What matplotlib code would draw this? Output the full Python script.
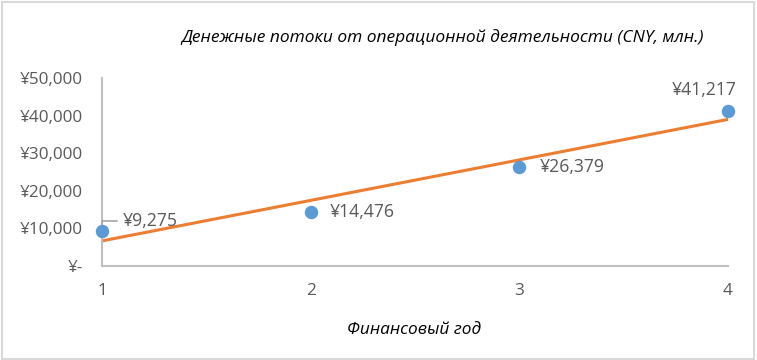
import matplotlib
matplotlib.use("Agg")
import matplotlib.pyplot as plt
import numpy as np
from matplotlib.patches import Rectangle

# data
years = [1, 2, 3, 4]
cash_flow = [9275, 14476, 26379, 41217]
y_ticks = [0, 10000, 20000, 30000, 40000, 50000]
y_tick_labels = ["¥-", "¥10,000", "¥20,000", "¥30,000", "¥40,000", "¥50,000"]
title = "Денежные потоки от операционной деятельности (CNY, млн.)"
x_title = "Финансовый год"

plt.rcParams["font.family"] = ["Open Sans", "DejaVu Sans"]
txt_col = "#595959"
axis_col = "#BFBFBF"

fig = plt.figure(figsize=(7.57, 3.6), dpi=100)
fig.patches.append(Rectangle((0.002, 0.004), 0.994, 0.99, transform=fig.transFigure,
                             fill=False, edgecolor="#D9D9D9", linewidth=1.5))
ax = fig.add_axes([0.1347, 0.2611, 0.827, 0.5222])

# linear trendline (least squares, like Excel)
k, b = np.polyfit(years, cash_flow, 1)
xs = np.array([years[0], years[-1]])
ax.plot(xs, k * xs + b, color="#ED7D31", linewidth=2.2, zorder=2)
ax.scatter(years, cash_flow, s=75, color="#5B9BD5", zorder=3, clip_on=False)

# data labels
lab_fs = 12.7
lab = ["¥{:,}".format(v) for v in cash_flow]
ax.annotate(lab[0], (years[0], cash_flow[0]), xytext=(15, 7), textcoords="offset points",
            fontsize=lab_fs, color=txt_col, va="center", ha="left",
            arrowprops=dict(arrowstyle="-", color="#A6A6A6", lw=1.2, shrinkA=2, shrinkB=5,
                            connectionstyle="angle,angleA=0,angleB=90,rad=0"))
ax.annotate(lab[1], (years[1], cash_flow[1]), xytext=(14, 0), textcoords="offset points",
            fontsize=lab_fs, color=txt_col, va="center", ha="left")
ax.annotate(lab[2], (years[2], cash_flow[2]), xytext=(15, 0), textcoords="offset points",
            fontsize=lab_fs, color=txt_col, va="center", ha="left")
ax.annotate(lab[3], (years[3], cash_flow[3]), xytext=(-17, 15), textcoords="offset points",
            fontsize=lab_fs, color=txt_col, va="center", ha="center")

ax.set_xlim(1, 4)
ax.set_ylim(0, 50000)
ax.set_xticks(years)
ax.set_xticklabels([str(y) for y in years])
ax.set_yticks(y_ticks)
ax.set_yticklabels(y_tick_labels)
ax.tick_params(length=0, labelsize=12.3, labelcolor=txt_col)
ax.tick_params(axis="y", pad=14)
ax.tick_params(axis="x", pad=12)
for s in ["top", "right"]:
    ax.spines[s].set_visible(False)
for s in ["left", "bottom"]:
    ax.spines[s].set_color(axis_col)
    ax.spines[s].set_linewidth(1.5)

fig.text(0.585, 0.897, title, fontsize=12.5, style="italic", color="black", ha="center", va="center")
fig.text(0.547, 0.083, x_title, fontsize=12.4, style="italic", color="black", ha="center", va="center")

fig.savefig("out.png", dpi=100)
